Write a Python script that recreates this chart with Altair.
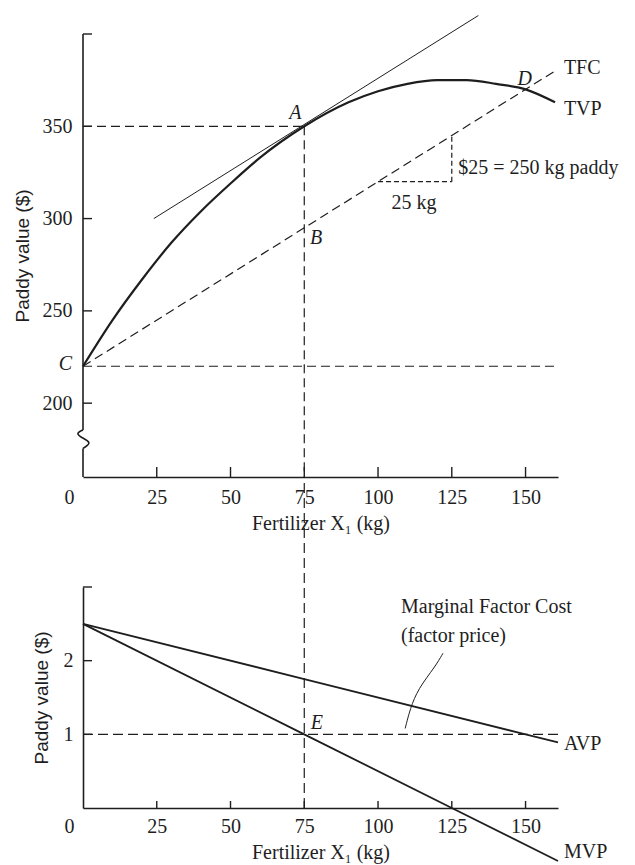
import altair as alt
import pandas as pd

# ---------------- data ----------------
x_ticks = [0, 25, 50, 75, 100, 125, 150]
top_y_ticks = [200, 250, 300, 350]
low_y_ticks = [1, 2]

x_domain = [0, 161]
top_y_domain = [160, 400]
low_y_domain = [0, 3]

# Total value product (TVP) curve
tvp_x = [0, 10, 20, 30, 40, 50, 60, 75, 90, 100, 110, 120, 130, 140, 150, 160]
tvp_y = [220, 245, 267, 287, 304, 319, 333, 350, 363, 369, 373, 375, 375, 373, 370, 363]

# Total factor cost (TFC) line
tfc_x = [0, 160]
tfc_y = [220, 380]

# Tangent to TVP at A
tangent_x = [24, 134]
tangent_y = [300, 410]

# Guide lines in the top panel (x, y, x2, y2)
top_guides = [
    (0, 350, 75, 350),    # A to the y axis
    (75, 350, 75, 160),   # A down to the x axis
    (0, 220, 161, 220),   # level of C
]
# Slope triangle: 25 kg run, $25 rise
triangle = [
    (100, 320, 125, 320),
    (125, 320, 125, 345),
]

# Value of marginal / average product (lower panel)
avp_x = [0, 75, 150, 161]
avp_y = [2.5, 1.75, 1.0, 0.89]
mvp_x = [0, 75, 125, 161]
mvp_y = [2.5, 1.0, 0.0, -0.72]
mfc_value = 1.0
# Leader from the "(factor price)" note to the MFC line
leader_x = [122, 119.4, 113.6, 110.9, 109.2]
leader_y = [2.10, 1.92, 1.62, 1.35, 1.08]

# Axis break on the top panel's y axis
break_x = [0, -2.6, 0, 3.0, 0]
break_y = [185.5, 183.5, 181, 178.5, 175.5]

# Annotations
top_points = [("A", 72, 357), ("B", 79, 289.5), ("C", -6, 221), ("D", 149.7, 375.6)]
top_notes_left = [("TFC", 163, 381.6), ("TVP", 163, 359.3), ("$25 = 250 kg paddy", 127.2, 327.4)]
top_notes_center = [("25 kg", 112.2, 308.4)]
low_points = [("E", 79.3, 1.15)]
low_notes_left = [("Marginal Factor Cost", 107.8, 2.73), ("(factor price)", 107.8, 2.33),
                  ("AVP", 163, 0.87), ("MVP", 163, -0.6)]

# ---------------- layout ----------------
W = 475
TOP_H = 443
LOW_H = 221
GAP = 110
ink = "#1e1e1e"
serif = "Liberation Serif"
sans = "Liberation Sans"

ux = (x_domain[1] - x_domain[0]) / W
uy_top = (top_y_domain[1] - top_y_domain[0]) / TOP_H
uy_low = (low_y_domain[1] - low_y_domain[0]) / LOW_H

zero_shift = {"condition": {"test": "datum.value === 0", "value": -14}, "value": 0}

xscale = alt.Scale(domain=x_domain, nice=False, zero=False)
top_yscale = alt.Scale(domain=top_y_domain, nice=False, zero=False)
low_yscale = alt.Scale(domain=low_y_domain, nice=False, zero=False)

top_x_axis = alt.Axis(title="Fertilizer X₁ (kg)", values=x_ticks, ticks=False, grid=False,
                      labelFlush=False, labelOverlap=False, labelPadding=10, titlePadding=6,
                      labelOffset=zero_shift)
low_x_axis = alt.Axis(title="Fertilizer X₁ (kg)", values=x_ticks, ticks=False, grid=False,
                      labelFlush=False, labelOverlap=False, labelPadding=8, titlePadding=6,
                      labelOffset=zero_shift)
top_y_axis = alt.Axis(title="Paddy value ($)", values=top_y_ticks, ticks=False, grid=False,
                      domain=False, labelFlush=False, labelPadding=11, titlePadding=10,
                      titleFont=sans, titleFontSize=19)
low_y_axis = alt.Axis(title="Paddy value ($)", values=low_y_ticks, ticks=False, grid=False,
                      domain=True, labelFlush=False, labelPadding=10, titlePadding=12,
                      titleFont=sans, titleFontSize=19)


def X(axis):
    return alt.X("x:Q", scale=xscale, axis=axis)


def Yt():
    return alt.Y("y:Q", scale=top_yscale, axis=top_y_axis)


def Yl():
    return alt.Y("y:Q", scale=low_yscale, axis=low_y_axis)


def segs(rows):
    return pd.DataFrame(rows, columns=["x", "y", "x2", "y2"])


def pts(xs, ys):
    return pd.DataFrame({"x": xs, "y": ys})


def labels(rows):
    return pd.DataFrame(rows, columns=["t", "x", "y"])


# ---------------- top panel ----------------
tx = top_x_axis
top_tick_rows = [(v, top_y_domain[0], v, top_y_domain[0] + 10 * uy_top) for v in x_ticks[1:]]
top_tick_rows += [(0, v, 9 * ux, v) for v in top_y_ticks + [top_y_domain[1]]]
top_axis_rows = [(0, break_y[0], 0, top_y_domain[1]), (0, top_y_domain[0], 0, break_y[-1])]


def rule_layer(df, dash=None, width=1.2, x_axis=tx, yfun=Yt):
    kw = dict(color=ink, strokeWidth=width)
    if dash:
        kw["strokeDash"] = dash
    return alt.Chart(df).mark_rule(**kw).encode(
        x=X(x_axis), y=yfun(), x2="x2:Q", y2="y2:Q")


top_layers = [
    rule_layer(segs(top_guides), dash=[9, 5]),
    rule_layer(segs(triangle), dash=[5, 3]),
    rule_layer(segs(top_tick_rows), width=1.4),
    rule_layer(segs(top_axis_rows), width=1.6),
    alt.Chart(pd.DataFrame({"x": break_x, "y": break_y, "i": range(len(break_x))}))
    .mark_line(color=ink, strokeWidth=1.6, interpolate="basis")
    .encode(x=X(tx), y=Yt(), order="i:Q"),
    alt.Chart(pts(tangent_x, tangent_y)).mark_line(color=ink, strokeWidth=1)
    .encode(x=X(tx), y=Yt()),
    alt.Chart(pts(tfc_x, tfc_y)).mark_line(color=ink, strokeWidth=1.2, strokeDash=[9, 5])
    .encode(x=X(tx), y=Yt()),
    alt.Chart(pts(tvp_x, tvp_y)).mark_line(color=ink, strokeWidth=2.2, interpolate="monotone")
    .encode(x=X(tx), y=Yt()),
    alt.Chart(labels(top_points)).mark_text(font=serif, fontSize=20, fontStyle="italic",
                                             color=ink, align="center", baseline="middle")
    .encode(x=X(tx), y=Yt(), text="t:N"),
    alt.Chart(labels(top_notes_left)).mark_text(font=serif, fontSize=20, color=ink,
                                                 align="left", baseline="middle")
    .encode(x=X(tx), y=Yt(), text="t:N"),
    alt.Chart(labels(top_notes_center)).mark_text(font=serif, fontSize=20, color=ink,
                                                   align="center", baseline="middle")
    .encode(x=X(tx), y=Yt(), text="t:N"),
]
top = alt.layer(*top_layers).properties(width=W, height=TOP_H)

# ---------------- lower panel ----------------
lx = low_x_axis
y_ext = low_y_domain[1] + GAP * uy_low
low_guides = [(0, mfc_value, x_domain[1], mfc_value), (75, 0, 75, y_ext)]
low_tick_rows = [(v, 0, v, 7 * uy_low) for v in x_ticks[1:]]
low_tick_rows += [(0, v, 9 * ux, v) for v in low_y_ticks + [low_y_domain[1]]]

low_layers = [
    rule_layer(segs(low_guides), dash=[10, 5], x_axis=lx, yfun=Yl),
    rule_layer(segs(low_tick_rows), width=1.4, x_axis=lx, yfun=Yl),
    alt.Chart(pts(avp_x, avp_y)).mark_line(color=ink, strokeWidth=1.8)
    .encode(x=X(lx), y=Yl()),
    alt.Chart(pts(mvp_x, mvp_y)).mark_line(color=ink, strokeWidth=1.8)
    .encode(x=X(lx), y=Yl()),
    alt.Chart(pts(leader_x, leader_y)).mark_line(color=ink, strokeWidth=1, interpolate="basis")
    .encode(x=X(lx), y=Yl()),
    alt.Chart(labels(low_points)).mark_text(font=serif, fontSize=20, fontStyle="italic",
                                             color=ink, align="center", baseline="middle")
    .encode(x=X(lx), y=Yl(), text="t:N"),
    alt.Chart(labels(low_notes_left)).mark_text(font=serif, fontSize=20, color=ink,
                                                 align="left", baseline="middle")
    .encode(x=X(lx), y=Yl(), text="t:N"),
]
low = alt.layer(*low_layers).properties(width=W, height=LOW_H)

chart = (
    alt.vconcat(top, low, spacing=GAP, bounds="flush")
    .properties(padding={"left": 5, "top": 5, "right": 0, "bottom": 0}, background="white")
    .configure_view(stroke=None)
    .configure_axis(domainColor=ink, domainWidth=1.6, labelColor=ink, titleColor=ink,
                    labelFont=serif, labelFontSize=20, titleFont=serif, titleFontSize=20,
                    titleFontWeight="normal")
)

chart.save("out.html", embed_options={"renderer": "svg", "actions": False})
